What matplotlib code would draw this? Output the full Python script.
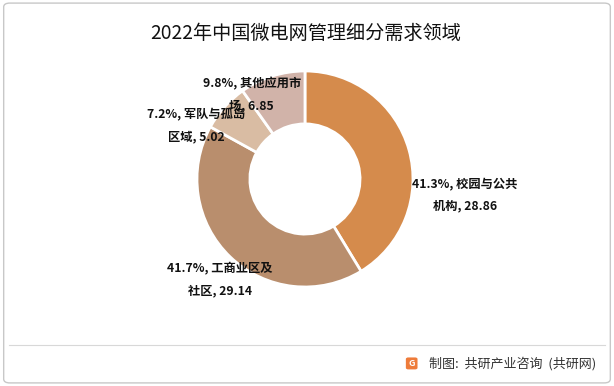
import matplotlib.pyplot as plt
from matplotlib.patches import FancyBboxPatch
from matplotlib.lines import Line2D

plt.rcParams['font.family'] = ['Noto Sans CJK SC', 'DejaVu Sans']

# 数据
categories = ['校园与公共\n机构', '工商业区及\n社区', '军队与孤岛\n区域', '其他应用市\n场']
values = [28.86, 29.14, 5.02, 6.85]
shares = ['41.3%', '41.7%', '7.2%', '9.8%']
colors = ['#D58B4C', '#B98E6D', '#D9BCA3', '#D1B3A9']

fig = plt.figure(figsize=(6.14, 3.86), dpi=100)

# 外框
fig.patches.append(FancyBboxPatch((0.006, 0.008), 0.988, 0.984,
                                  boxstyle='round,pad=0,rounding_size=0.01',
                                  transform=fig.transFigure, fill=False,
                                  edgecolor='#c8c8c8', linewidth=1))

fig.text(0.498, 0.913, '2022年中国微电网管理细分需求领域', ha='center', va='center',
         fontsize=13.8, color='#111111')

ax = fig.add_axes([0.3208, 0.2565, 0.3518, 0.5596])
ax.pie(values, colors=colors, startangle=90, counterclock=False, radius=1,
       wedgeprops=dict(width=0.49, edgecolor='white', linewidth=2))
ax.set_xlim(-1, 1)
ax.set_ylim(-1, 1)
ax.set_aspect('equal')
ax.axis('off')

# 标签位置 (figure 比例)
label_pos = [(0.757, 0.495), (0.358, 0.275), (0.319, 0.674), (0.410, 0.754)]
for (x, y), c, v, s in zip(label_pos, categories, values, shares):
    first, second = c.split('\n')
    txt = f'{s}, {first}\n{second}, {v:.2f}'
    fig.text(x, y, txt, ha='center', va='center', fontsize=8.8, fontweight='bold',
             linespacing=1.85, color='#111111')

# 底部分隔线
fig.add_artist(Line2D([0.015, 0.985], [0.106, 0.106], transform=fig.transFigure,
                      color='#d8d8d8', linewidth=0.8))

# logo + 来源
fig.patches.append(FancyBboxPatch((0.661, 0.043), 0.019, 0.031,
                                  boxstyle='round,pad=0,rounding_size=0.004',
                                  transform=fig.transFigure, facecolor='#EE7B3A',
                                  edgecolor='none'))
fig.text(0.6705, 0.058, 'G', ha='center', va='center', fontsize=6.5,
         fontweight='bold', color='white')
fig.text(0.971, 0.058, '制图:  共研产业咨询  (共研网)', ha='right', va='center',
         fontsize=9.4, color='#333333')

fig.savefig('out.png', dpi=100)
